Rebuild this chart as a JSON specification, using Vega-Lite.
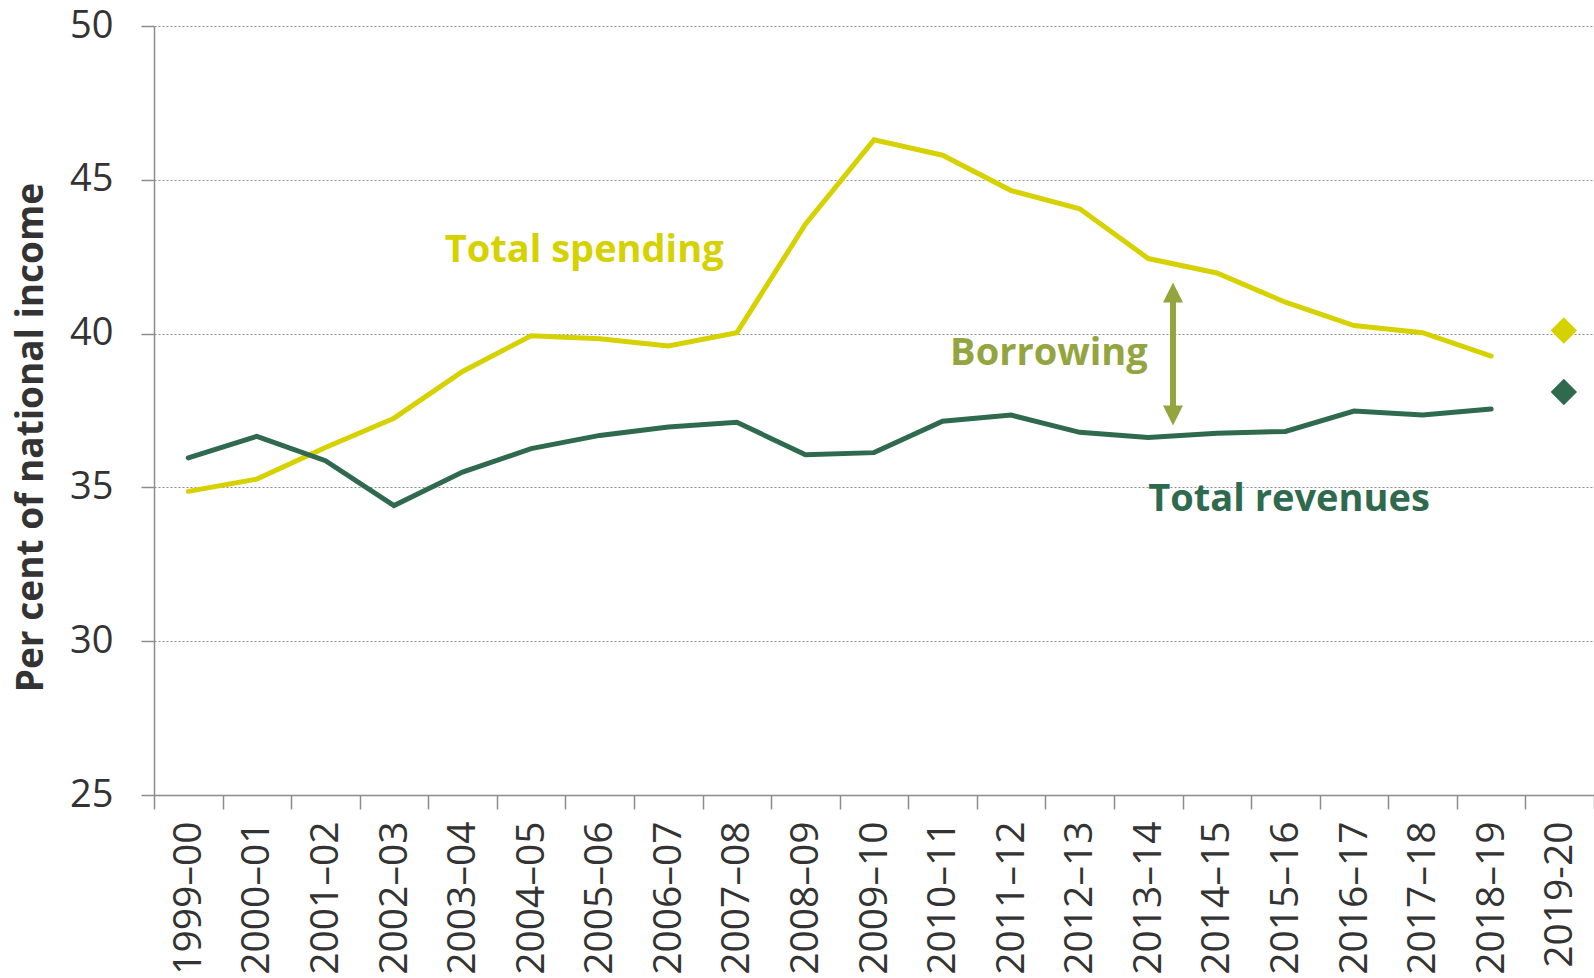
{
  "$schema": "https://vega.github.io/schema/vega-lite/v6.json",
  "autosize": "none",
  "width": 1440,
  "height": 769,
  "padding": {"left": 154, "top": 26, "right": 0, "bottom": 183},
  "background": "white",
  "config": {
    "view": {"stroke": null},
    "font": "Open Sans",
    "axis": {
      "domainColor": "#8c8c8c",
      "tickColor": "#8c8c8c",
      "labelColor": "#333333",
      "titleColor": "#333333",
      "labelFont": "Open Sans",
      "titleFont": "Open Sans"
    }
  },
  "datasets": {
    "series": [
      {"year": "1999–00", "series": "Total spending", "value": 34.87},
      {"year": "2000–01", "series": "Total spending", "value": 35.27},
      {"year": "2001–02", "series": "Total spending", "value": 36.3},
      {"year": "2002–03", "series": "Total spending", "value": 37.25},
      {"year": "2003–04", "series": "Total spending", "value": 38.77},
      {"year": "2004–05", "series": "Total spending", "value": 39.93},
      {"year": "2005–06", "series": "Total spending", "value": 39.83},
      {"year": "2006–07", "series": "Total spending", "value": 39.6},
      {"year": "2007–08", "series": "Total spending", "value": 40.03},
      {"year": "2008–09", "series": "Total spending", "value": 43.56},
      {"year": "2009–10", "series": "Total spending", "value": 46.3},
      {"year": "2010–11", "series": "Total spending", "value": 45.8},
      {"year": "2011–12", "series": "Total spending", "value": 44.65},
      {"year": "2012–13", "series": "Total spending", "value": 44.06},
      {"year": "2013–14", "series": "Total spending", "value": 42.44},
      {"year": "2014–15", "series": "Total spending", "value": 41.97},
      {"year": "2015–16", "series": "Total spending", "value": 41.02},
      {"year": "2016–17", "series": "Total spending", "value": 40.26},
      {"year": "2017–18", "series": "Total spending", "value": 40.03},
      {"year": "2018–19", "series": "Total spending", "value": 39.27},
      {"year": "1999–00", "series": "Total revenues", "value": 35.96},
      {"year": "2000–01", "series": "Total revenues", "value": 36.66},
      {"year": "2001–02", "series": "Total revenues", "value": 35.87},
      {"year": "2002–03", "series": "Total revenues", "value": 34.41},
      {"year": "2003–04", "series": "Total revenues", "value": 35.5},
      {"year": "2004–05", "series": "Total revenues", "value": 36.26},
      {"year": "2005–06", "series": "Total revenues", "value": 36.69},
      {"year": "2006–07", "series": "Total revenues", "value": 36.96},
      {"year": "2007–08", "series": "Total revenues", "value": 37.12},
      {"year": "2008–09", "series": "Total revenues", "value": 36.06},
      {"year": "2009–10", "series": "Total revenues", "value": 36.13},
      {"year": "2010–11", "series": "Total revenues", "value": 37.15},
      {"year": "2011–12", "series": "Total revenues", "value": 37.35},
      {"year": "2012–13", "series": "Total revenues", "value": 36.79},
      {"year": "2013–14", "series": "Total revenues", "value": 36.62},
      {"year": "2014–15", "series": "Total revenues", "value": 36.76},
      {"year": "2015–16", "series": "Total revenues", "value": 36.82},
      {"year": "2016–17", "series": "Total revenues", "value": 37.48},
      {"year": "2017–18", "series": "Total revenues", "value": 37.35},
      {"year": "2018–19", "series": "Total revenues", "value": 37.55}
    ],
    "forecast": [
      {"year": "2019-20", "series": "Total spending", "value": 40.1},
      {"year": "2019-20", "series": "Total revenues", "value": 38.1}
    ],
    "labels": [
      {"year": "2003–04", "pos": 0.24, "value": 42.33, "text": "Total spending", "series": "Total spending"},
      {"year": "2010–11", "pos": 0.61, "value": 38.98, "text": "Borrowing", "series": "Borrowing"},
      {"year": "2013–14", "pos": 0.5, "value": 34.23, "text": "Total revenues", "series": "Total revenues"}
    ],
    "arrow": [
      {"year": "2013–14", "top": 41.34, "bottom": 37.34}
    ]
  },
  "layer": [
    {
      "data": {"name": "series"},
      "mark": {"type": "line", "strokeWidth": 5, "strokeCap": "round", "strokeJoin": "miter"},
      "encoding": {
        "x": {
          "field": "year", "type": "nominal", "sort": null,
          "scale": {"type": "band", "paddingInner": 0, "paddingOuter": 0, "domain": ["1999–00","2000–01","2001–02","2002–03","2003–04","2004–05","2005–06","2006–07","2007–08","2008–09","2009–10","2010–11","2011–12","2012–13","2013–14","2014–15","2015–16","2016–17","2017–18","2018–19","2019-20"]},
          "axis": {
            "title": null,
            "tickBand": "extent",
            "labelAngle": -90,
            "labelAlign": "right",
            "labelBaseline": "middle",
            "labelFontSize": 39,
            "labelPadding": 12,
            "tickSize": 14,
            "tickWidth": 1.5,
            "domainWidth": 1.5,
            "grid": false
          }
        },
        "y": {
          "field": "value", "type": "quantitative",
          "scale": {"domain": [25, 50], "nice": false, "zero": false},
          "axis": {
            "title": "Per cent of national income",
            "titleFontSize": 37,
            "titleFontWeight": "bold",
            "titleAngle": -90,
            "titleAlign": "center",
            "titleBaseline": "middle",
            "titleX": -123,
            "titleY": 411,
            "values": [25, 30, 35, 40, 45, 50],
            "labelFontSize": 38,
            "labelPadding": 28,
            "tickSize": 13,
            "tickWidth": 1.5,
            "domainWidth": 1.5,
            "grid": true,
            "gridColor": "#8c8c8c",
            "gridDash": [2, 2],
            "gridWidth": 1
          }
        },
        "color": {
          "field": "series", "type": "nominal", "legend": null,
          "scale": {"domain": ["Total spending", "Total revenues", "Borrowing"], "range": ["#d6d100", "#2f6a4e", "#94a43f"]}
        }
      }
    },
    {
      "data": {"name": "forecast"},
      "mark": {"type": "point", "shape": "diamond", "filled": true, "size": 700, "opacity": 1},
      "encoding": {
        "x": {"field": "year", "type": "nominal", "sort": null, "bandPosition": 0.56},
        "y": {"field": "value", "type": "quantitative"},
        "color": {"field": "series", "type": "nominal", "legend": null}
      }
    },
    {
      "data": {"name": "labels"},
      "mark": {"type": "text", "align": "left", "baseline": "alphabetic", "fontSize": 38, "fontWeight": "bold", "font": "Open Sans"},
      "encoding": {
        "x": {"field": "year", "type": "nominal", "sort": null, "bandPosition": 0},
        "xOffset": {"field": "pos", "type": "quantitative", "scale": {"domain": [0, 1], "range": [0, 68.57]}},
        "y": {"field": "value", "type": "quantitative"},
        "text": {"field": "text"},
        "color": {"field": "series", "type": "nominal", "legend": null}
      }
    },
    {
      "data": {"name": "arrow"},
      "mark": {"type": "rule", "strokeWidth": 6, "color": "#94a43f"},
      "encoding": {
        "x": {"field": "year", "type": "nominal", "sort": null, "bandPosition": 0.86},
        "y": {"field": "top", "type": "quantitative"},
        "y2": {"field": "bottom"}
      }
    },
    {
      "data": {"name": "arrow"},
      "mark": {"type": "point", "shape": "M0,-1L1,1L-1,1Z", "filled": true, "size": 400, "color": "#94a43f", "opacity": 1},
      "encoding": {
        "x": {"field": "year", "type": "nominal", "sort": null, "bandPosition": 0.86},
        "y": {"field": "top", "type": "quantitative"}
      }
    },
    {
      "data": {"name": "arrow"},
      "mark": {"type": "point", "shape": "M0,1L1,-1L-1,-1Z", "filled": true, "size": 400, "color": "#94a43f", "opacity": 1},
      "encoding": {
        "x": {"field": "year", "type": "nominal", "sort": null, "bandPosition": 0.86},
        "y": {"field": "bottom", "type": "quantitative"}
      }
    }
  ]
}
